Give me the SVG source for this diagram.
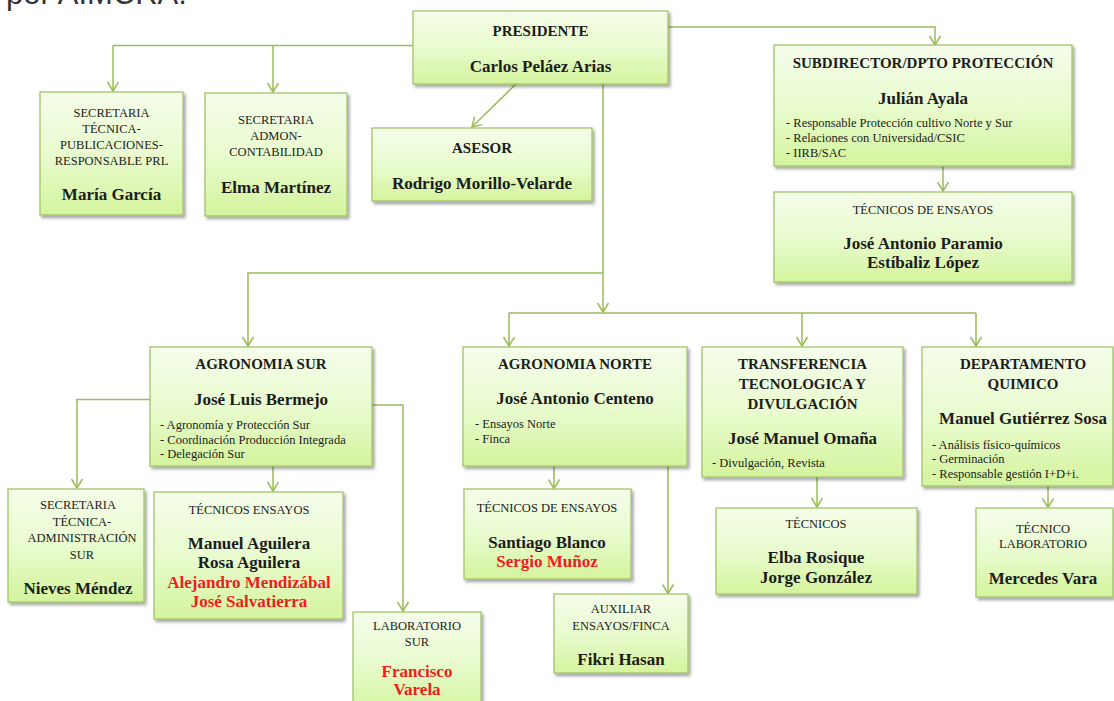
<svg xmlns="http://www.w3.org/2000/svg" width="1114" height="701" viewBox="0 0 1114 701">
<defs>
<linearGradient id="g" x1="0" y1="0" x2="0" y2="1">
<stop offset="0" stop-color="#f5fdea"/>
<stop offset="0.5" stop-color="#e9fbcf"/>
<stop offset="1" stop-color="#d4f49d"/>
</linearGradient>
<filter id="sh" x="-10%" y="-10%" width="125%" height="130%">
<feDropShadow dx="2" dy="2.5" stdDeviation="1.5" flood-color="#000" flood-opacity="0.35"/>
</filter>
<marker id="arr" markerUnits="userSpaceOnUse" markerWidth="12" markerHeight="14" viewBox="-10 -7 12 14" refX="0" refY="0" orient="auto">
<path d="M-9,-5.5 L0,0 L-9,5.5" fill="none" stroke="#9bbb59" stroke-width="1.5"/>
</marker>
<style>
.box{fill:url(#g);stroke:#a2c46a;stroke-width:1.3;filter:url(#sh)}
text{font-family:"Liberation Serif","Times New Roman",serif;fill:#1c1c1c}
.h{font-weight:bold;font-size:15px;text-anchor:middle}
.hr{font-size:12.5px;text-anchor:middle}
.n{font-weight:bold;font-size:17px;text-anchor:middle}
.b{font-size:12.5px}
.red{fill:#f01c1c}
.c{fill:none;stroke:#9bbb59;stroke-width:1.5}
.a{marker-end:url(#arr)}
.top{font-family:"Liberation Sans",Arial,sans-serif;font-size:31px;fill:#333}
</style>
</defs>
<rect width="1114" height="701" fill="#fff"/>
<text class="top" x="6" y="4">por AIMCRA.</text>

<g id="connectors">
<path class="c" d="M413,45.5 H113"/>
<path class="c a" d="M113,45.5 V91"/>
<path class="c a" d="M273,45.5 V92"/>
<path class="c a" d="M668,27 H935 V45"/>
<path class="c a" d="M516,84 L472,127"/>
<path class="c a" d="M603,84 V312"/>
<path class="c a" d="M603,273 H248 V346"/>
<path class="c" d="M509,313 H976"/>
<path class="c a" d="M509,313 V346"/>
<path class="c a" d="M802,313 V346"/>
<path class="c a" d="M976,313 V346"/>
<path class="c a" d="M943,166 V191"/>
<path class="c a" d="M150,399.5 H77 V488"/>
<path class="c a" d="M273,466 V491"/>
<path class="c a" d="M372,405 H403 V611"/>
<path class="c a" d="M554,466 V488.5"/>
<path class="c a" d="M668,466 V593.5"/>
<path class="c a" d="M817,477 V507"/>
<path class="c a" d="M1048,486 V507.5"/>
</g>

<g id="presidente">
<rect class="box" x="413" y="11" width="255" height="73"/>
<text class="h" x="540.5" y="36">PRESIDENTE</text>
<text class="n" x="540.5" y="72">Carlos Peláez Arias</text>
</g>

<g id="secretaria-tecnica">
<rect class="box" x="40" y="92" width="143" height="123"/>
<text class="hr" x="111.5" y="116.5">SECRETARIA</text>
<text class="hr" x="111.5" y="132.5">TÉCNICA-</text>
<text class="hr" x="111.5" y="148.5">PUBLICACIONES-</text>
<text class="hr" x="111.5" y="164.5">RESPONSABLE PRL</text>
<text class="n" x="111.5" y="200">María García</text>
</g>

<g id="secretaria-admon">
<rect class="box" x="205" y="93" width="142" height="123"/>
<text class="hr" x="276" y="124">SECRETARIA</text>
<text class="hr" x="276" y="140">ADMON-</text>
<text class="hr" x="276" y="156">CONTABILIDAD</text>
<text class="n" x="276" y="192.5">Elma Martínez</text>
</g>

<g id="asesor">
<rect class="box" x="372" y="128" width="220" height="73"/>
<text class="h" x="482" y="152.5">ASESOR</text>
<text class="n" x="482" y="188.5">Rodrigo Morillo-Velarde</text>
</g>

<g id="subdirector">
<rect class="box" x="774" y="45" width="298" height="121"/>
<text class="h" x="923" y="67.5">SUBDIRECTOR/DPTO PROTECCIÓN</text>
<text class="n" x="923" y="104">Julián Ayala</text>
<text class="b" x="786" y="126.5">- Responsable Protección cultivo Norte y Sur</text>
<text class="b" x="786" y="141.5">- Relaciones con Universidad/CSIC</text>
<text class="b" x="786" y="156.5">- IIRB/SAC</text>
</g>

<g id="tecnicos-proteccion">
<rect class="box" x="774" y="192" width="298" height="90"/>
<text class="hr" x="923" y="213.5">TÉCNICOS DE ENSAYOS</text>
<text class="n" x="923" y="248.5">José Antonio Paramio</text>
<text class="n" x="923" y="267.5">Estíbaliz López</text>
</g>

<g id="agronomia-sur">
<rect class="box" x="150" y="347" width="222" height="119"/>
<text class="h" x="261" y="368.5">AGRONOMIA SUR</text>
<text class="n" x="261" y="405">José Luis Bermejo</text>
<text class="b" x="160" y="428.5">- Agronomía y Protección Sur</text>
<text class="b" x="160" y="443.5">- Coordinación Producción Integrada</text>
<text class="b" x="160" y="458">- Delegación Sur</text>
</g>

<g id="secretaria-sur">
<rect class="box" x="8" y="489" width="136" height="113"/>
<text class="hr" x="78" y="509">SECRETARIA</text>
<text class="hr" x="82" y="525.5">TÉCNICA-</text>
<text class="hr" x="82" y="542">ADMINISTRACIÓN</text>
<text class="hr" x="82" y="558.5">SUR</text>
<text class="n" x="78" y="593.5">Nieves Méndez</text>
</g>

<g id="tecnicos-sur">
<rect class="box" x="154" y="492" width="189" height="127"/>
<text class="hr" x="249" y="513.5">TÉCNICOS ENSAYOS</text>
<text class="n" x="249" y="548.5">Manuel Aguilera</text>
<text class="n" x="249" y="567.5">Rosa Aguilera</text>
<text class="n red" x="249" y="587.5">Alejandro Mendizábal</text>
<text class="n red" x="249" y="606.5">José Salvatierra</text>
</g>

<g id="laboratorio-sur">
<rect class="box" x="353" y="612" width="128" height="100"/>
<text class="hr" x="417" y="629.5">LABORATORIO</text>
<text class="hr" x="417" y="646">SUR</text>
<text class="n red" x="417" y="677">Francisco</text>
<text class="n red" x="417" y="695">Varela</text>
</g>

<g id="agronomia-norte">
<rect class="box" x="463" y="347" width="224" height="119"/>
<text class="h" x="575" y="368.5">AGRONOMIA NORTE</text>
<text class="n" x="575" y="404">José Antonio Centeno</text>
<text class="b" x="475" y="428">- Ensayos Norte</text>
<text class="b" x="475" y="442.5">- Finca</text>
</g>

<g id="tecnicos-norte">
<rect class="box" x="464" y="489" width="167" height="90"/>
<text class="hr" x="547" y="512">TÉCNICOS DE ENSAYOS</text>
<text class="n" x="547" y="547.5">Santiago Blanco</text>
<text class="n red" x="547" y="567">Sergio Muñoz</text>
</g>

<g id="auxiliar">
<rect class="box" x="554" y="594" width="134" height="79"/>
<text class="hr" x="621" y="613">AUXILIAR</text>
<text class="hr" x="621" y="629.5">ENSAYOS/FINCA</text>
<text class="n" x="621" y="664.5">Fikri Hasan</text>
</g>

<g id="transferencia">
<rect class="box" x="702" y="347" width="201" height="130"/>
<text class="h" x="802.5" y="368.5">TRANSFERENCIA</text>
<text class="h" x="802.5" y="388.5">TECNOLOGICA Y</text>
<text class="h" x="802.5" y="408.5">DIVULGACIÓN</text>
<text class="n" x="802.5" y="443.5">José Manuel Omaña</text>
<text class="b" x="712" y="467">- Divulgación, Revista</text>
</g>

<g id="tecnicos-transferencia">
<rect class="box" x="716" y="508" width="201" height="86"/>
<text class="hr" x="816" y="528">TÉCNICOS</text>
<text class="n" x="816" y="563">Elba Rosique</text>
<text class="n" x="816" y="582.5">Jorge González</text>
</g>

<g id="departamento-quimico">
<rect class="box" x="922" y="347" width="191" height="139"/>
<text class="h" x="1023" y="368.5">DEPARTAMENTO</text>
<text class="h" x="1023" y="388.5">QUIMICO</text>
<text class="n" x="1023" y="423.5">Manuel Gutiérrez Sosa</text>
<text class="b" x="932" y="448.5">- Análisis físico-químicos</text>
<text class="b" x="932" y="462.5">- Germinación</text>
<text class="b" x="932" y="477.5">- Responsable gestión I+D+i.</text>
</g>

<g id="tecnico-laboratorio">
<rect class="box" x="976" y="508" width="137" height="89"/>
<text class="hr" x="1043" y="532.5">TÉCNICO</text>
<text class="hr" x="1043" y="548">LABORATORIO</text>
<text class="n" x="1043" y="583.5">Mercedes Vara</text>
</g>
</svg>
